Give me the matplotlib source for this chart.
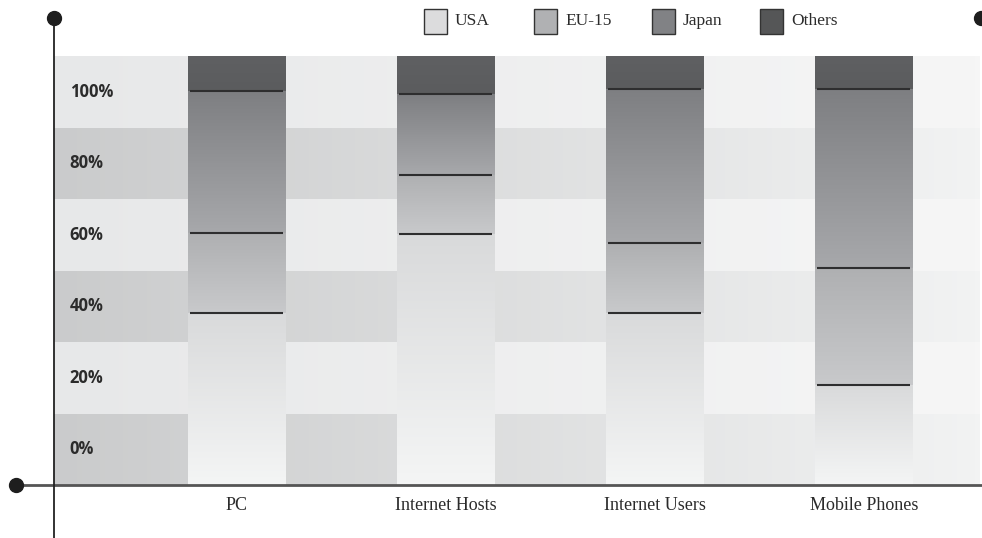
import numpy as np
import matplotlib.pyplot as plt
from matplotlib.colors import LinearSegmentedColormap, to_rgb
from matplotlib.patches import Rectangle

# Share of world total (%)
categories = ["PC", "Internet Hosts", "Internet Users", "Mobile Phones"]
series = ["USA", "EU-15", "Japan", "Others"]
usa = [40.1, 58.5, 40.1, 23.3]
eu15 = [18.6, 13.8, 16.3, 27.3]
japan = [33.1, 18.8, 35.9, 41.7]
others = [8.2, 8.9, 7.7, 7.7]
tick_labels = ["0%", "20%", "40%", "60%", "80%", "100%"]

legend_colors = ["#dcdcdd", "#b0b1b3", "#818285", "#555657"]
# gradient (bottom, top) for each series
grad = [("#f4f5f5", "#d9dadb"), ("#c8c9cb", "#afb0b2"),
        ("#a7a8ab", "#7e7f82"), ("#5b5c5e", "#5f6062")]

W, H = 982, 538
fig = plt.figure(figsize=(W / 100, H / 100), dpi=100)

# main axes, placed in pixel terms
left, right, top, bottom = 54, 980, 56, 485
ax = fig.add_axes([left / W, 1 - bottom / H, (right - left) / W, (bottom - top) / H])
x = np.arange(len(categories))
xmin, xmax = -0.87, 3.555

# background bands with a left-to-right fade
nb = len(tick_labels)
dark = (np.array(to_rgb("#cacbcc")), np.array(to_rgb("#f2f3f3")))
light = (np.array(to_rgb("#e7e8e9")), np.array(to_rgb("#f6f6f6")))
t = np.linspace(0, 1, 200)
bg = np.zeros((nb, len(t), 3))
for i in range(nb):
    c0, c1 = dark if i % 2 == 0 else light
    bg[i] = c0[None, :] * (1 - t[:, None]) + c1[None, :] * t[:, None]
ax.imshow(bg, extent=[xmin, xmax, 0, 100], origin="lower", aspect="auto",
          interpolation="nearest", zorder=0)

# stacked bars with vertical gradients
width = 0.464
stack = np.array([usa, eu15, japan, others])
bottoms = np.vstack([np.zeros(len(categories)), np.cumsum(stack, axis=0)[:-1]])
for s in range(len(series)):
    cmap = LinearSegmentedColormap.from_list(series[s], grad[s])
    g = np.linspace(0, 1, 64)[:, None]
    for j in range(len(categories)):
        b0 = bottoms[s, j]
        b1 = b0 + stack[s, j]
        ax.imshow(g, cmap=cmap, extent=[x[j] - width / 2, x[j] + width / 2, b0, b1],
                  origin="lower", aspect="auto", interpolation="bilinear", zorder=2)
        if s > 0:
            ax.hlines(b0, x[j] - width / 2 + 0.01, x[j] + width / 2 - 0.01,
                      color="#2e2e2f", lw=1.5, zorder=3)

ax.set_xlim(xmin, xmax)
ax.set_ylim(0, 100)

# band labels
for i, lab in enumerate(tick_labels):
    ax.text(xmin + 0.075, (i + 0.5) * 100 / nb, lab, ha="left", va="center",
            fontsize=12, fontweight="bold", family="Open Sans", color="#2b2b2b")

ax.set_xticks(x)
ax.set_xticklabels(categories, family="Liberation Serif", fontsize=13, color="#2b2b2b")
ax.tick_params(axis="x", length=0, pad=9)
ax.set_yticks([])
for sp in ax.spines.values():
    sp.set_visible(False)

# axis lines with end dots, in pixel coordinates
ov = fig.add_axes([0, 0, 1, 1], zorder=5)
ov.set_xlim(0, W)
ov.set_ylim(H, 0)
ov.axis("off")
ov.plot([16, W], [485, 485], color="#555555", lw=2)
ov.plot([54, 54], [18, H], color="#222222", lw=1.3)
ov.plot([54, 16, 981], [18, 485, 18], "o", color="#1e1e1e", ms=10)

# legend
legend_x = [424, 534, 652, 760]
for lx, c, name in zip(legend_x, legend_colors, series):
    ov.add_patch(Rectangle((lx, 9), 23, 25, facecolor=c, edgecolor="#333333", lw=1))
    ov.text(lx + 31, 21, name, ha="left", va="center", family="Liberation Serif",
            fontsize=12.5, color="#2b2b2b")

fig.savefig("out.png", dpi=100)
